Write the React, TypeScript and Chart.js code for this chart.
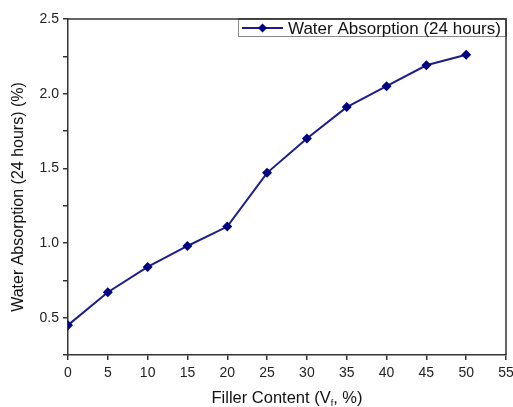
import React, { useEffect, useRef } from "react";
import { Chart, registerables } from "chart.js";

Chart.register(...registerables);

const fillerContent = [0, 5, 10, 15, 20, 25, 30, 35, 40, 45, 50];
const absorption = [0.45, 0.67, 0.84, 0.98, 1.11, 1.47, 1.70, 1.91, 2.05, 2.19, 2.26];
const seriesLabel = "Water Absorption (24 hours)";
const yTitle = "Water Absorption (24 hours) (%)";
const xTitleParts = ["Filler Content (V", "f", ", %)"];

const FONT = "'Liberation Sans', Arial, sans-serif";
const LINE = "#1c1c8f";
const MARK = "#000080";
const AXIS = "#333333";

const decorPlugin = {
  id: "decor",
  afterDraw(chart: any) {
    const { ctx, chartArea } = chart;
    const { left, right, top, bottom } = chartArea;
    ctx.save();
    // frame top/right
    ctx.strokeStyle = AXIS;
    ctx.lineWidth = 1.5;
    ctx.beginPath();
    ctx.moveTo(left, top);
    ctx.lineTo(right, top);
    ctx.lineTo(right, bottom);
    ctx.stroke();

    // legend
    const lx0 = 238, ly0 = top, lx1 = right, ly1 = top + 18;
    ctx.fillStyle = "#fff";
    ctx.fillRect(lx0, ly0, lx1 - lx0, ly1 - ly0);
    ctx.strokeStyle = "#888";
    ctx.lineWidth = 1;
    ctx.strokeRect(lx0 + 0.5, ly0 + 0.5, lx1 - lx0 - 1, ly1 - ly0 - 1);
    ctx.strokeStyle = AXIS;
    ctx.lineWidth = 1.5;
    ctx.beginPath();
    ctx.moveTo(lx0, top);
    ctx.lineTo(right, top);
    ctx.lineTo(right, ly1);
    ctx.stroke();
    const cy = (ly0 + ly1) / 2;
    ctx.strokeStyle = LINE;
    ctx.lineWidth = 2;
    ctx.beginPath();
    ctx.moveTo(lx0 + 4, cy);
    ctx.lineTo(lx0 + 45, cy);
    ctx.stroke();
    ctx.fillStyle = MARK;
    const mx = lx0 + 24.5, r = 4.5;
    ctx.beginPath();
    ctx.moveTo(mx, cy - r);
    ctx.lineTo(mx + r, cy);
    ctx.lineTo(mx, cy + r);
    ctx.lineTo(mx - r, cy);
    ctx.closePath();
    ctx.fill();
    ctx.fillStyle = "#111";
    ctx.font = `17px ${FONT}`;
    ctx.textBaseline = "middle";
    ctx.textAlign = "left";
    ctx.fillText(chart.data.datasets[0].label, lx0 + 50, cy + 1);

    // y title
    ctx.save();
    ctx.translate(19, (top + bottom) / 2 + 10);
    ctx.rotate(-Math.PI / 2);
    ctx.textAlign = "center";
    ctx.textBaseline = "middle";
    ctx.fillStyle = "#111";
    ctx.font = `16px ${FONT}`;
    ctx.fillText(yTitle, 0, 0);
    ctx.restore();

    // x title with subscript
    ctx.font = `16.5px ${FONT}`;
    const w1 = ctx.measureText(xTitleParts[0]).width;
    const w3 = ctx.measureText(xTitleParts[2]).width;
    ctx.font = `9px ${FONT}`;
    const w2 = ctx.measureText(xTitleParts[1]).width;
    const total = w1 + w2 + w3;
    let x = (left + right) / 2 - total / 2;
    const by = 403;
    ctx.textBaseline = "alphabetic";
    ctx.textAlign = "left";
    ctx.fillStyle = "#111";
    ctx.font = `16.5px ${FONT}`;
    ctx.fillText(xTitleParts[0], x, by);
    x += w1;
    ctx.font = `9px ${FONT}`;
    ctx.fillText(xTitleParts[1], x, by + 3);
    x += w2;
    ctx.font = `16.5px ${FONT}`;
    ctx.fillText(xTitleParts[2], x, by);
    ctx.restore();
  },
};

export default function App() {
  const ref = useRef<HTMLCanvasElement>(null);
  useEffect(() => {
    document.body.style.margin = "0";
    const chart = new Chart(ref.current as HTMLCanvasElement, {
      type: "line",
      data: {
        datasets: [
          {
            label: seriesLabel,
            data: fillerContent.map((x, i) => ({ x, y: absorption[i] })),
            borderColor: LINE,
            backgroundColor: MARK,
            borderWidth: 2,
            pointStyle: "rectRot",
            pointRadius: 5,
            pointBackgroundColor: MARK,
            pointBorderColor: MARK,
            pointBorderWidth: 0,
            tension: 0,
          },
        ],
      },
      options: {
        animation: false,
        responsive: false,
        layout: { padding: { left: 0, right: 7, top: 19, bottom: 0 } },
        plugins: { legend: { display: false }, tooltip: { enabled: false } },
        scales: {
          x: {
            type: "linear",
            min: 0,
            max: 55,
            afterFit: (s: any) => { s.height = 52; s.paddingLeft = 0; s.paddingRight = 0; },
            ticks: {
              stepSize: 5,
              autoSkip: false,
              maxRotation: 0,
              color: "#222",
              font: { size: 14, family: FONT },
              padding: 5,
            },
            grid: { drawOnChartArea: false, drawTicks: true, tickLength: 5, color: AXIS, lineWidth: 1.5 },
            border: { display: true, color: AXIS, width: 1.5 },
          },
          y: {
            type: "linear",
            min: 0.25,
            max: 2.5,
            afterFit: (s: any) => { s.width = 68; s.paddingTop = 0; s.paddingBottom = 0; },
            ticks: {
              stepSize: 0.25,
              autoSkip: false,
              color: "#222",
              font: { size: 14, family: FONT },
              padding: 4,
              callback: (v: any) => {
                const n = Number(v);
                if (n < 0.49) return "";
                return Math.abs(n * 2 - Math.round(n * 2)) < 1e-6 ? n.toFixed(1) : "";
              },
            },
            grid: { drawOnChartArea: false, drawTicks: true, tickLength: 5, color: AXIS, lineWidth: 1.5 },
            border: { display: true, color: AXIS, width: 1.5 },
          },
        },
      } as any,
      plugins: [decorPlugin],
    });
    return () => chart.destroy();
  }, []);
  return (
    <div style={{ position: "absolute", left: 0, top: 0, width: 513, height: 407, background: "#fff" }}>
      <canvas ref={ref} width={513} height={407} />
    </div>
  );
}
